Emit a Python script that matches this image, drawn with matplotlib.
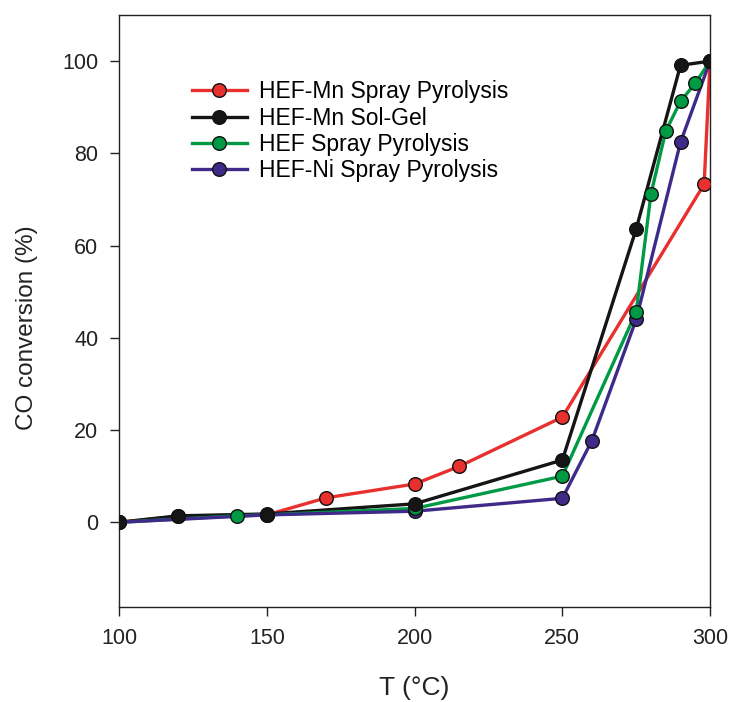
import matplotlib
matplotlib.use("Agg")
import matplotlib.pyplot as plt

plt.rcParams['font.family'] = ['Liberation Sans', 'DejaVu Sans']

# CO conversion (%) versus temperature (°C) for each catalyst
t_mn_sp = [100, 120, 150, 170, 200, 215, 250, 298, 300]
co_mn_sp = [0.0, 1.3, 1.6, 5.3, 8.3, 12.1, 22.8, 73.3, 100.0]

t_mn_sg = [100, 120, 150, 200, 250, 275, 290, 300]
co_mn_sg = [0.0, 1.4, 1.8, 4.0, 13.5, 63.6, 99.1, 100.0]

t_hef_sp = [100, 140, 150, 200, 250, 275, 280, 285, 290, 295, 300]
co_hef_sp = [0.0, 1.4, 1.6, 3.0, 10.0, 45.6, 71.2, 84.8, 91.3, 95.2, 100.0]

t_ni_sp = [100, 150, 200, 250, 260, 275, 290, 300]
co_ni_sp = [0.0, 1.6, 2.4, 5.2, 17.7, 44.0, 82.4, 100.0]

labels = ["HEF-Mn Spray Pyrolysis", "HEF-Mn Sol-Gel",
          "HEF Spray Pyrolysis", "HEF-Ni Spray Pyrolysis"]
colors = ["#E8302E", "#151515", "#009A44", "#3F2A8A"]
series = [(t_mn_sp, co_mn_sp), (t_mn_sg, co_mn_sg),
          (t_hef_sp, co_hef_sp), (t_ni_sp, co_ni_sp)]

x_ticks = [100, 150, 200, 250, 300]
y_ticks = [0, 20, 40, 60, 80, 100]

fig = plt.figure(figsize=(7.29, 7.02), dpi=100)
ax = fig.add_axes([0.1636, 0.1358, 0.8104, 0.8428])

# lines beneath all markers, markers stacked purple < green < red < black
marker_z = {0: 5, 1: 6, 2: 4, 3: 3}
handles = []
for i, ((t, co), lab, c) in enumerate(zip(series, labels, colors)):
    ax.plot(t, co, color=c, lw=2.4, zorder=2, solid_capstyle='butt')
    ax.plot(t, co, ls='none', marker='o', ms=9.8, mfc=c, mec='#111111',
            mew=1.0, zorder=marker_z[i])
    h, = ax.plot([], [], color=c, lw=2.4, marker='o', ms=9.8, mfc=c,
                 mec='#111111', mew=1.0)
    handles.append(h)

ax.set_xlim(100, 300)
ax.set_ylim(-18.3, 110)
ax.set_xticks(x_ticks)
ax.set_yticks(y_ticks)
ax.tick_params(direction='out', length=6.5, width=1.0, labelsize=15.5,
               colors='#222222', pad=8.5)
ax.tick_params(axis='x', pad=9)
for s in ax.spines.values():
    s.set_linewidth(1.0)
    s.set_color('#222222')

ax.set_xlabel("T (°C)", fontsize=19, color='#222222', labelpad=19)
ax.set_ylabel("CO conversion (%)", fontsize=17.5, color='#222222')
ax.yaxis.set_label_coords(-0.1376, 0.471)

ax.legend(handles, labels, loc='upper left', bbox_to_anchor=(0.123, 0.89),
          frameon=False, fontsize=16.5, handlelength=2.4, handletextpad=0.52,
          labelspacing=0.15, borderaxespad=0, borderpad=0)

fig.savefig("out.png", dpi=100)
